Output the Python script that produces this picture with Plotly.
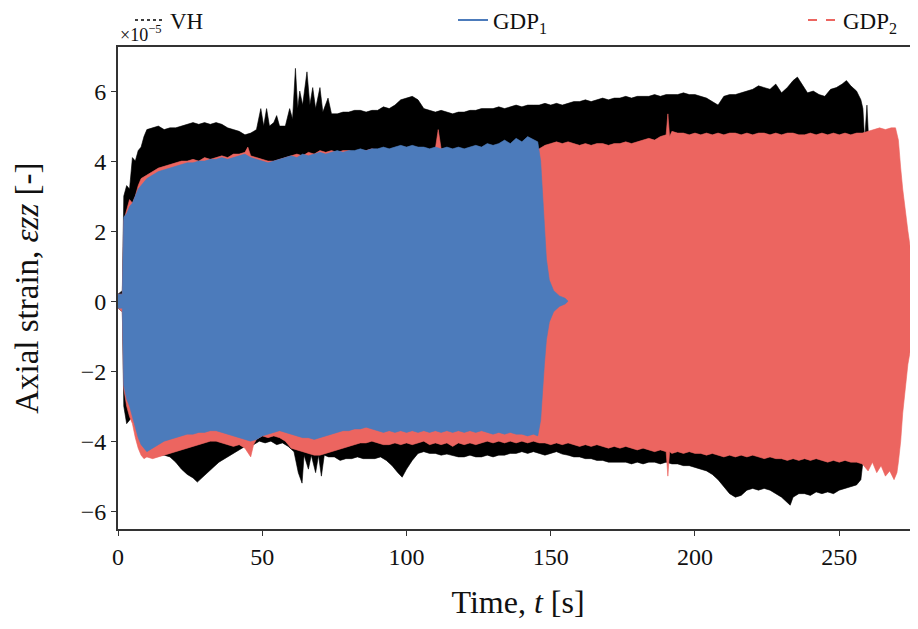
import plotly.graph_objects as go

# ---------------- data (strain in units of 1e-5) ----------------
# VH (black, dotted)
vh_t_up = [0, 1.5, 2, 3, 4, 5, 6, 7, 8, 9, 10, 12, 14, 16, 18, 20, 22, 24, 26, 28, 30, 32, 34, 36, 38, 40, 42, 44, 46, 48,
           49.5, 50.5, 51.5, 52.5, 54, 55, 56, 58, 59.5, 60.5, 61.5, 62.3, 63, 64, 65.5, 66.5, 67.5, 68.5, 70, 71, 72.8, 74,
           76, 78, 80, 82, 84, 86, 88, 90, 92, 94, 96, 98, 100, 102, 104, 106, 108, 110, 112, 114, 116, 118, 120, 122, 124,
           126, 128, 130, 132, 134, 136, 138, 140, 142, 144, 146, 148, 150, 152, 154, 156, 158, 160, 162, 164, 166, 168, 170,
           172, 174, 176, 178, 180, 182, 184, 186, 188, 190, 192, 194, 196, 198, 200, 202, 204, 206, 208, 210, 212, 214, 216,
           218, 220, 222, 224, 226, 228, 230, 232, 234, 235.5, 237, 239, 241, 243, 245, 247, 249, 251, 252.5, 254, 256, 257.5,
           258.2, 258.8, 259.6, 260.2]
vh_up = [0.2, 0.3, 3.0, 3.3, 3.2, 4.1, 4.0, 4.3, 4.4, 4.7, 4.9, 4.95, 5.0, 4.9, 4.95, 4.95, 5.0, 5.05, 5.1, 5.05, 5.1, 5.05, 5.1, 5.05, 4.95, 4.9, 4.85, 4.75, 4.8, 4.9,
         5.5, 5.0, 5.5, 5.0, 5.1, 5.3, 5.0, 5.0, 5.5, 5.2, 6.65, 5.5, 6.0, 5.6, 6.55, 5.6, 6.1, 5.5, 6.1, 5.4, 5.8, 5.35,
         5.35, 5.4, 5.4, 5.45, 5.45, 5.4, 5.45, 5.45, 5.55, 5.5, 5.6, 5.75, 5.8, 5.85, 5.75, 5.5, 5.45, 5.4, 5.45, 5.4, 5.35, 5.4, 5.4, 5.45, 5.45,
         5.5, 5.5, 5.5, 5.55, 5.5, 5.55, 5.6, 5.55, 5.6, 5.6, 5.6, 5.65, 5.6, 5.65, 5.6, 5.65, 5.7, 5.7, 5.75, 5.7, 5.75, 5.8, 5.75,
         5.8, 5.8, 5.85, 5.8, 5.85, 5.85, 5.85, 5.9, 5.85, 5.9, 5.9, 5.9, 5.95, 5.9, 5.9, 5.85, 5.8, 5.7, 5.6, 5.85, 5.9, 5.9, 5.95,
         6.0, 6.05, 6.15, 6.1, 6.05, 6.2, 5.95, 6.1, 6.3, 6.4, 6.2, 5.95, 6.0, 5.9, 5.85, 6.05, 6.1, 6.2, 6.3, 6.15, 6.0, 5.75,
         5.5, 4.6, 5.6, 4.6]
vh_t_lo = [0, 1.5, 2, 3, 4, 5, 6, 7, 8, 10, 12, 14, 16, 18, 20, 22, 24, 26, 27.5, 29, 31, 33, 35, 37, 39, 41, 43, 45, 47, 49,
           51, 53, 55, 57, 59, 61, 62.5, 63.8, 64.5, 66, 67, 68.5, 69.5, 70.5, 71.5, 73, 75, 77, 79, 81, 83, 85, 87, 89, 91, 93,
           95, 97, 98.5, 100, 102, 104, 106, 108, 110, 112, 114, 116, 118, 120, 122, 124, 126, 128, 130, 132, 134, 136, 138, 140,
           142, 144, 146, 148, 150, 152, 154, 156, 158, 160, 162, 164, 166, 168, 170, 172, 174, 176, 178, 180, 182, 184, 186, 188,
           190, 192, 194, 196, 198, 200, 202, 204, 206, 208, 210, 212, 214, 216, 218, 220, 222, 224, 226, 228, 230, 232, 233, 234,
           236, 238, 240, 242, 244, 246, 248, 250, 252, 254, 256, 257.5, 258.2, 258.8, 259.6, 260.2]
vh_lo = [-0.2, -0.3, -3.0, -3.5, -3.4, -3.3, -3.6, -3.9, -4.1, -4.3, -4.35, -4.4, -4.4, -4.45, -4.6, -4.8, -4.95, -5.05, -5.17, -5.05, -4.9, -4.75, -4.6, -4.5, -4.4, -4.3, -4.2, -4.1, -4.1, -4.0,
         -4.05, -4.0, -4.1, -4.05, -4.15, -4.3, -4.9, -5.2, -4.4, -4.8, -4.4, -4.9, -4.4, -5.0, -4.4, -4.45, -4.45, -4.55, -4.5, -4.5, -4.45, -4.5, -4.5, -4.5, -4.45, -4.55,
         -4.7, -4.9, -5.03, -4.8, -4.55, -4.35, -4.3, -4.35, -4.35, -4.4, -4.37, -4.4, -4.45, -4.45, -4.4, -4.45, -4.45, -4.4, -4.45, -4.4, -4.4, -4.35, -4.35, -4.3,
         -4.35, -4.3, -4.35, -4.4, -4.35, -4.3, -4.37, -4.4, -4.45, -4.45, -4.5, -4.5, -4.55, -4.55, -4.6, -4.6, -4.6, -4.6, -4.65, -4.6, -4.65, -4.6, -4.6, -4.65,
         -4.6, -4.65, -4.65, -4.7, -4.7, -4.75, -4.8, -4.85, -4.95, -5.1, -5.3, -5.5, -5.6, -5.55, -5.4, -5.35, -5.4, -5.35, -5.4, -5.5, -5.6, -5.75, -5.83, -5.6,
         -5.5, -5.5, -5.55, -5.45, -5.5, -5.45, -5.5, -5.4, -5.35, -5.3, -5.25, -5.1, -4.6, -4.5, -4.6, -4.5]

# GDP2 (red, dashed)
g2_t_up = [0, 1.5, 2, 3, 4, 5, 6, 7, 8, 10, 12, 14, 16, 18, 20, 22, 24, 26, 28, 30, 32, 34, 36, 38, 40, 42, 44, 45, 46, 48,
           50, 52, 54, 56, 58, 60, 62, 64, 66, 68, 70, 72, 74, 76, 78, 80, 82, 84, 86, 88, 90, 92, 94, 96, 98, 100, 102, 104,
           106, 108, 110, 111, 112, 114, 116, 118, 120, 122, 124, 126, 128, 130, 132, 134, 136, 138, 140, 142, 144, 146, 148,
           150, 152, 154, 156, 158, 160, 162, 164, 166, 168, 170, 172, 174, 176, 178, 180, 182, 184, 186, 188, 190, 190.6, 191.2,
           192, 194, 196, 198, 200, 202, 204, 206, 208, 210, 212, 214, 216, 218, 220, 222, 224, 226, 228, 230, 232, 234, 236,
           238, 240, 242, 244, 246, 248, 250, 252, 254, 256, 258, 260, 262, 264, 266, 268, 269.5, 270.5, 271.3, 272, 273.8,
           275.2, 277.3]
g2_up = [0.2, 0.2, 2.3, 2.6, 2.9, 2.8, 3.0, 3.3, 3.5, 3.6, 3.7, 3.8, 3.85, 3.9, 3.95, 4.0, 4.0, 4.05, 4.0, 4.1, 4.05, 4.1, 4.15, 4.1, 4.2, 4.2, 4.25, 4.4, 4.15, 4.1,
         4.05, 4.0, 4.0, 4.05, 4.1, 4.15, 4.2, 4.15, 4.25, 4.2, 4.3, 4.25, 4.3, 4.25, 4.3, 4.3, 4.25, 4.3, 4.3, 4.35, 4.3, 4.35, 4.3, 4.35, 4.3, 4.35, 4.3, 4.35,
         4.3, 4.3, 4.35, 4.9, 4.35, 4.35, 4.3, 4.35, 4.3, 4.35, 4.3, 4.35, 4.3, 4.35, 4.3, 4.3, 4.35, 4.3, 4.35, 4.3, 4.3, 4.35, 4.45,
         4.5, 4.55, 4.5, 4.55, 4.5, 4.45, 4.5, 4.45, 4.5, 4.5, 4.45, 4.5, 4.5, 4.55, 4.5, 4.55, 4.6, 4.65, 4.6, 4.7, 4.75, 5.35, 4.7,
         4.85, 4.8, 4.8, 4.75, 4.8, 4.75, 4.8, 4.75, 4.8, 4.75, 4.8, 4.8, 4.75, 4.8, 4.75, 4.8, 4.8, 4.75, 4.8, 4.75, 4.8, 4.8, 4.75,
         4.75, 4.8, 4.75, 4.8, 4.75, 4.8, 4.75, 4.8, 4.75, 4.8, 4.8, 4.85, 4.9, 4.95, 4.9, 4.95, 4.95, 4.6, 3.8, 3.2, 2.0,
         1.2, 0.8]
g2_t_lo = [0, 1.5, 2, 3, 4, 5, 6, 7, 8, 9, 10, 12, 14, 16, 18, 20, 22, 24, 26, 28, 30, 32, 34, 36, 38, 40, 42, 44, 46, 47,
           48, 50, 52, 54, 56, 58, 60, 62, 64, 66, 68, 70, 72, 74, 76, 78, 80, 82, 84, 86, 88, 90, 92, 94, 96, 98, 100, 102,
           104, 106, 108, 110, 112, 114, 116, 118, 120, 122, 124, 126, 128, 130, 132, 134, 136, 138, 140, 142, 144, 146, 148,
           150, 152, 154, 156, 158, 160, 162, 164, 166, 168, 170, 172, 174, 176, 178, 180, 182, 184, 186, 188, 190, 190.6, 191.2,
           192, 194, 196, 198, 200, 202, 204, 206, 208, 210, 212, 214, 216, 218, 220, 222, 224, 226, 228, 230, 232, 234, 236,
           238, 240, 242, 244, 246, 248, 250, 252, 254, 256, 258, 260, 261.5, 263, 264.5, 266, 267.5, 269, 270, 270.5, 271.3,
           272, 273.8, 275.5, 277.3]
g2_lo = [-0.2, -0.3, -2.5, -3.0, -3.3, -3.5, -3.9, -4.2, -4.4, -4.5, -4.45, -4.5, -4.45, -4.4, -4.35, -4.3, -4.25, -4.2, -4.15, -4.1, -4.05, -4.0, -4.0, -4.05, -4.1, -4.15, -4.1, -4.2, -4.45, -4.1,
         -3.95, -3.85, -3.9, -3.85, -3.9, -4.0, -4.2, -4.25, -4.3, -4.35, -4.4, -4.4, -4.35, -4.3, -4.25, -4.2, -4.15, -4.1, -4.05, -4.05, -4.0, -4.05, -4.1, -4.1, -4.05, -4.1, -4.05, -4.1,
         -4.05, -4.0, -4.1, -4.05, -4.1, -4.05, -4.15, -4.05, -4.1, -4.05, -4.1, -4.05, -4.0, -4.05, -4.0, -4.05, -4.0, -4.05, -4.0, -4.05, -4.0, -4.05, -4.05,
         -4.1, -4.05, -4.1, -4.05, -4.1, -4.15, -4.1, -4.15, -4.1, -4.15, -4.2, -4.15, -4.2, -4.15, -4.2, -4.25, -4.2, -4.25, -4.3, -4.25, -4.3, -5.0, -4.3,
         -4.35, -4.3, -4.35, -4.3, -4.35, -4.35, -4.4, -4.35, -4.4, -4.45, -4.4, -4.45, -4.4, -4.45, -4.4, -4.45, -4.5, -4.45, -4.5, -4.5, -4.55, -4.5, -4.55,
         -4.5, -4.55, -4.5, -4.55, -4.6, -4.55, -4.6, -4.55, -4.6, -4.6, -4.65, -4.85, -4.6, -4.9, -4.7, -5.0, -4.85, -5.1, -4.9, -4.6, -4.0,
         -3.2, -1.8, -1.0, -0.8]

# GDP1 (blue, solid)
g1_t_up = [0, 1.5, 2, 3, 4, 5, 6, 7, 8, 10, 12, 14, 16, 18, 20, 22, 24, 26, 28, 30, 32, 34, 36, 38, 40, 42, 44, 46, 48, 50,
           52, 54, 56, 58, 60, 62, 64, 66, 68, 70, 72, 74, 76, 78, 80, 82, 84, 86, 88, 90, 92, 94, 96, 98, 100, 102, 104, 106,
           108, 110, 112, 114, 116, 118, 120, 122, 124, 126, 128, 130, 132, 134, 136, 138, 140, 142, 144, 145.5, 146.5, 147.2,
           147.8, 148.5, 149.5, 151, 153, 155, 156]
g1_up = [0.2, 0.2, 2.4, 2.5, 2.7, 2.8, 3.0, 3.2, 3.3, 3.5, 3.6, 3.7, 3.75, 3.8, 3.85, 3.9, 3.95, 3.95, 4.0, 4.0, 4.05, 4.05, 4.1, 4.05, 4.1, 4.15, 4.2, 4.1, 4.05, 4.0,
         3.95, 4.0, 4.05, 4.1, 4.15, 4.1, 4.2, 4.15, 4.2, 4.25, 4.2, 4.25, 4.3, 4.25, 4.3, 4.3, 4.35, 4.3, 4.35, 4.35, 4.4, 4.35, 4.4, 4.45, 4.4, 4.45, 4.4, 4.4,
         4.35, 4.4, 4.35, 4.4, 4.35, 4.4, 4.35, 4.4, 4.45, 4.4, 4.5, 4.45, 4.5, 4.6, 4.5, 4.65, 4.55, 4.7, 4.6, 4.55, 4.0, 3.0,
         2.0, 1.2, 0.6, 0.3, 0.15, 0.08, 0.0]
g1_t_lo = g1_t_up
g1_lo = [-0.2, -0.2, -2.4, -2.8, -3.0, -3.3, -3.6, -3.9, -4.1, -4.3, -4.2, -4.1, -4.0, -3.95, -3.9, -3.85, -3.8, -3.8, -3.75, -3.75, -3.7, -3.7, -3.75, -3.8, -3.85, -3.9, -3.95, -4.0, -3.95, -3.85,
         -3.8, -3.75, -3.7, -3.75, -3.8, -3.85, -3.9, -3.9, -3.95, -3.9, -3.85, -3.8, -3.75, -3.7, -3.7, -3.65, -3.65, -3.6, -3.65, -3.7, -3.75, -3.7, -3.75, -3.7, -3.75, -3.7, -3.75, -3.7,
         -3.75, -3.7, -3.75, -3.7, -3.75, -3.7, -3.75, -3.7, -3.75, -3.7, -3.75, -3.8, -3.75, -3.8, -3.75, -3.8, -3.8, -3.85, -3.8, -3.85, -3.4, -2.6,
         -1.8, -1.1, -0.6, -0.3, -0.15, -0.08, 0.0]

x_ticks = [0, 50, 100, 150, 200, 250]
y_ticks = [-6, -4, -2, 0, 2, 4, 6]

# ---------------- figure ----------------
BLACK = "#000000"
BLUE = "#4c7bbb"
RED = "#ec6560"
FONT = "Liberation Serif"

fig = go.Figure()


def band(t_up, up, t_lo, lo, color):
    return go.Scatter(
        x=list(t_up) + list(t_lo)[::-1],
        y=list(up) + list(lo)[::-1],
        fill="toself", fillcolor=color, mode="lines",
        line=dict(width=0.6, color=color), showlegend=False, hoverinfo="skip",
    )


fig.add_trace(band(vh_t_up, vh_up, vh_t_lo, vh_lo, BLACK))
fig.add_trace(band(g2_t_up, g2_up, g2_t_lo, g2_lo, RED))
fig.add_trace(band(g1_t_up, g1_up, g1_t_lo, g1_lo, BLUE))

# legend entries (line styles)
fig.add_trace(go.Scatter(x=[None], y=[None], mode="lines", name="VH",
                         line=dict(color=BLACK, width=1.5, dash="dot"), legend="legend"))
fig.add_trace(go.Scatter(x=[None], y=[None], mode="lines", name="GDP<sub>1</sub>",
                         line=dict(color=BLUE, width=2), legend="legend2"))
fig.add_trace(go.Scatter(x=[None], y=[None], mode="lines", name="GDP<sub>2</sub>",
                         line=dict(color=RED, width=2, dash="dash"), legend="legend3"))

leg_common = dict(orientation="h", xref="container", yref="paper", yanchor="middle", y=1.056,
                  font=dict(family=FONT, size=23, color="#111"), bgcolor="rgba(0,0,0,0)",
                  borderwidth=0)

# page body adds an 8 px offset, so the figure is laid out 8 px up/left
fig.update_layout(
    width=918, height=629,
    margin=dict(l=110, r=8, t=39, b=108, autoexpand=False),
    paper_bgcolor="white", plot_bgcolor="white",
    font=dict(family=FONT, size=24, color="#111"),
    legend=dict(x=122 / 918, **leg_common),
    legend2=dict(x=445 / 918, **leg_common),
    legend3=dict(x=795 / 918, **leg_common),
    xaxis=dict(range=[0, 277.3], tickvals=x_ticks, ticks="outside", ticklen=5, tickwidth=1.3,
               tickcolor="#333", showline=True, linecolor="#333", linewidth=1.8, mirror=True,
               showgrid=False, zeroline=False, tickfont=dict(family=FONT, size=24),
               title=dict(text="Time, <i>t</i> [s]", font=dict(family=FONT, size=32), standoff=22)),
    yaxis=dict(range=[-6.51, 7.26], tickvals=y_ticks, ticks="outside", ticklen=5, tickwidth=1.3,
               tickcolor="#333", showline=True, linecolor="#333", linewidth=1.8,
               showgrid=False, zeroline=False, tickfont=dict(family=FONT, size=24)),
    annotations=[
        dict(text="×10<sup>−5</sup>", xref="paper", yref="paper", x=0, y=1, xanchor="left",
             yanchor="bottom", yshift=0, showarrow=False, font=dict(family=FONT, size=18, color="#111")),
        dict(text="Axial strain, <i>εzz</i> [-]", xref="paper", yref="paper", x=-0.114,
             y=0.5, textangle=-90, xanchor="center", yanchor="middle",
             showarrow=False, font=dict(family=FONT, size=33, color="#111")),
    ],
)

fig.write_html("out.html")
